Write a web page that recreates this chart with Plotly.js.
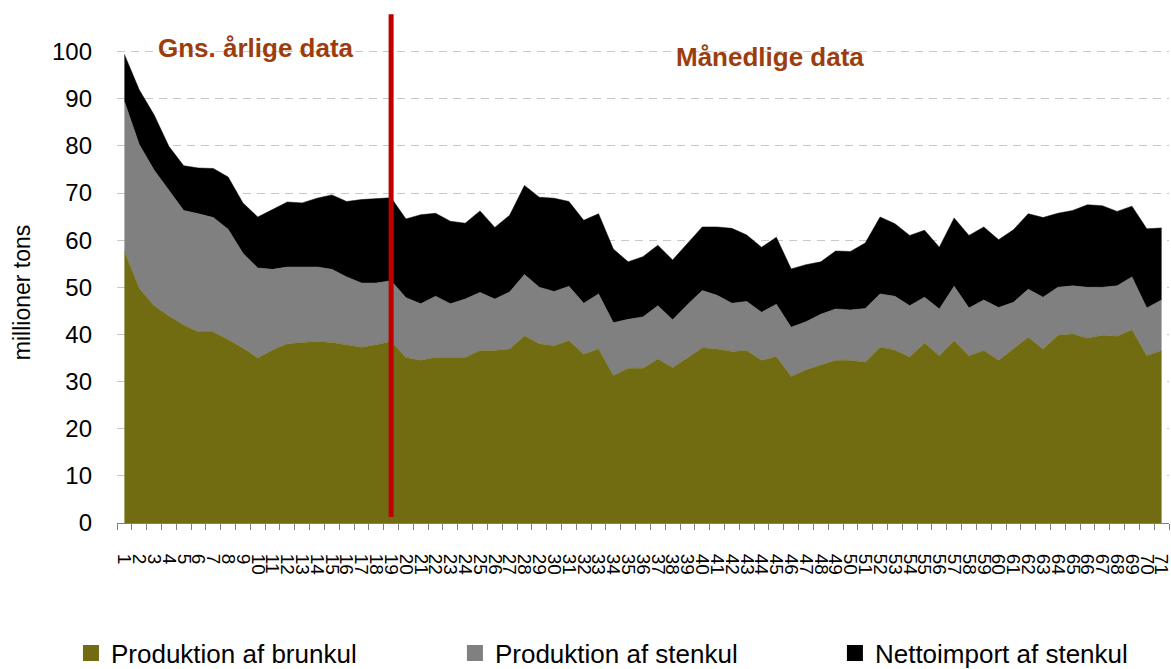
<!DOCTYPE html>
<html>
<head>
<meta charset="utf-8">
<script src="https://cdn.plot.ly/plotly-3.0.1.min.js"></script>
<style>
  html, body { margin: 0; padding: 0; background: #fff; }
  #chart { width: 1171px; height: 669px; }
</style>
</head>
<body>
<div id="chart"></div>
<script>
// periods: 19 annual averages, then monthly values
const periods = ['1','2','3','4','5','6','7','8','9','10','11','12','13','14','15','16','17','18','19','20',
  '21','22','23','24','25','26','27','28','29','30','31','32','33','34','35','36','37','38','39','40',
  '41','42','43','44','45','46','47','48','49','50','51','52','53','54','55','56','57','58','59','60',
  '61','62','63','64','65','66','67','68','69','70','71'];

// millioner tons
const brunkul = [57.6, 49.8, 46.1, 43.9, 42.0, 40.5, 40.5, 38.9, 37.1, 35.0,
  36.7, 38.0, 38.3, 38.5, 38.3, 37.8, 37.3, 37.8, 38.5, 35.1,
  34.5, 35.1, 35.1, 35.1, 36.6, 36.6, 36.9, 39.7, 38.0, 37.6,
  38.7, 35.8, 36.9, 31.3, 32.8, 32.8, 34.8, 33.0, 35.0, 37.2,
  36.9, 36.4, 36.6, 34.5, 35.3, 31.1, 32.5, 33.5, 34.5, 34.5,
  34.1, 37.3, 36.7, 35.2, 38.2, 35.5, 38.7, 35.5, 36.6, 34.5,
  36.9, 39.4, 36.9, 39.8, 40.1, 39.2, 39.8, 39.6, 41.0, 35.5, 36.6];

const stenkul = [31.8, 30.5, 28.8, 26.7, 24.3, 25.1, 24.3, 23.4, 20.1, 19.1,
  17.1, 16.3, 16.0, 15.8, 15.5, 14.4, 13.6, 13.1, 12.9, 12.7,
  12.0, 13.0, 11.4, 12.4, 12.3, 10.9, 12.1, 13.0, 12.0, 11.5,
  11.5, 10.8, 11.7, 11.2, 10.4, 10.9, 11.3, 10.1, 11.3, 12.1,
  11.4, 10.2, 10.4, 10.2, 11.1, 10.4, 10.2, 10.8, 10.9, 10.7,
  11.4, 11.3, 11.4, 10.9, 9.7, 9.9, 11.5, 10.1, 10.7, 11.2,
  9.9, 10.2, 11.0, 10.2, 10.2, 10.8, 10.2, 10.7, 11.2, 10.1, 10.7];

const nettoimport = [10.0, 11.6, 11.7, 9.3, 9.5, 9.7, 10.4, 11.1, 10.7, 10.8,
  12.7, 13.8, 13.6, 14.6, 15.8, 16.0, 17.7, 17.9, 17.6, 16.7,
  18.9, 17.6, 17.5, 16.1, 17.3, 15.2, 16.3, 18.9, 19.1, 19.8,
  18.0, 17.6, 17.0, 15.6, 12.2, 12.8, 12.8, 12.7, 12.9, 13.5,
  14.5, 15.9, 14.1, 13.8, 14.2, 12.4, 12.1, 11.1, 12.3, 12.4,
  13.9, 16.3, 15.4, 14.9, 14.2, 13.1, 14.5, 15.4, 15.5, 14.4,
  15.4, 16.0, 16.9, 15.7, 16.0, 17.5, 17.3, 15.8, 15.0, 16.8, 15.3];

const seriesNames = ['Produktion af brunkul', 'Produktion af stenkul', 'Nettoimport af stenkul'];
const seriesColors = ['#716b12', '#808080', '#000000'];
const seriesValues = [brunkul, stenkul, nettoimport];

const breakIndex = 18; // last annual value
const breakLabels = ['Gns. årlige data', 'Månedlige data'];

const font = 'Liberation Sans, Arial, sans-serif';

const traces = [];
seriesValues.forEach(function (vals, k) {
  traces.push({
    x: periods,
    y: vals,
    type: 'scatter',
    mode: 'lines',
    stackgroup: 'kul',
    fillcolor: seriesColors[k],
    line: { color: seriesColors[k], width: 0.5 },
    name: seriesNames[k],
    showlegend: false,
    hoverinfo: 'skip'
  });
});
// one small legend per series so each sits where the original puts it
const legendIds = ['legend', 'legend2', 'legend3'];
seriesValues.forEach(function (vals, k) {
  traces.push({
    x: [null],
    y: [null],
    type: 'scatter',
    mode: 'markers',
    marker: { symbol: 'square', size: 20, color: seriesColors[k] },
    name: seriesNames[k],
    showlegend: true,
    legend: legendIds[k]
  });
});

function legendAt(x) {
  return {
    orientation: 'h',
    xref: 'container',
    x: x,
    xanchor: 'left',
    y: -0.263,
    yanchor: 'middle',
    font: { family: font, size: 26, color: '#000' },
    itemwidth: 30,
    bgcolor: 'rgba(0,0,0,0)'
  };
}

const layout = {
  width: 1171,
  height: 669,
  margin: { l: 117, r: 2, t: 28, b: 146, autoexpand: false },
  paper_bgcolor: '#fff',
  plot_bgcolor: '#fff',
  font: { family: font, color: '#000' },
  showlegend: true,
  legend: legendAt(0.0606),
  legend2: legendAt(0.3885),
  legend3: legendAt(0.7130),
  xaxis: {
    type: 'category',
    range: [-0.5, 70.5],
    tickmode: 'linear',
    tick0: 0,
    dtick: 1,
    tickangle: 90,
    tickson: 'boundaries',
    ticks: 'outside',
    ticklen: 6,
    tickcolor: '#808080',
    showline: true,
    linecolor: '#808080',
    linewidth: 1,
    showgrid: false,
    tickfont: { family: font, size: 19, color: '#000' },
    ticklabelstandoff: 26,
    automargin: false,
    fixedrange: true
  },
  yaxis: {
    range: [0, 105],
    tickmode: 'linear',
    tick0: 0,
    dtick: 10,
    ticks: '',
    showline: false,
    zeroline: false,
    showgrid: true,
    gridcolor: '#c8c8c8',
    gridwidth: 1,
    griddash: '8px,6px',
    tickfont: { family: font, size: 24, color: '#000' },
    ticklabelstandoff: 24,
    automargin: false,
    fixedrange: true
  },
  shapes: [{
    type: 'line',
    xref: 'x',
    yref: 'paper',
    x0: breakIndex,
    x1: breakIndex,
    y0: 0.012,
    y1: 1.028,
    line: { color: '#c00000', width: 5 },
    layer: 'above'
  }],
  annotations: [
    {
      text: breakLabels[0],
      xref: 'x', yref: 'y',
      x: 8.9, y: 100.8,
      showarrow: false,
      font: { family: font, size: 26, color: '#9c3d0e', weight: 'bold' }
    },
    {
      text: breakLabels[1],
      xref: 'x', yref: 'y',
      x: 43.6, y: 98.9,
      showarrow: false,
      font: { family: font, size: 26, color: '#9c3d0e', weight: 'bold' }
    },
    {
      text: 'millioner tons',
      xref: 'paper', yref: 'paper',
      x: -0.090, y: 0.467,
      xanchor: 'center', yanchor: 'middle',
      textangle: -90,
      showarrow: false,
      font: { family: font, size: 23, color: '#000' }
    }
  ]
};

Plotly.newPlot('chart', traces, layout, { staticPlot: true, displayModeBar: false });
</script>
</body>
</html>
